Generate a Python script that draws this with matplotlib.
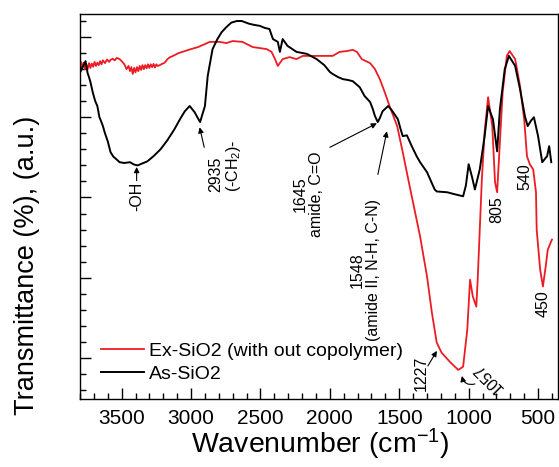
import matplotlib
matplotlib.use("Agg")
import matplotlib.pyplot as plt
from matplotlib.ticker import MultipleLocator

plt.rcParams["font.family"] = ["Liberation Sans", "DejaVu Sans"]
plt.rcParams["mathtext.fontset"] = "custom"
plt.rcParams["mathtext.rm"] = "Liberation Sans"
plt.rcParams["mathtext.it"] = "Liberation Sans:italic"

# As-SiO2 spectrum (wavenumber, transmittance a.u.)
as_wn = [3795, 3760, 3745, 3735, 3725, 3710, 3700, 3690, 3675, 3660, 3650, 3635,
         3620, 3600, 3580, 3560, 3540, 3515, 3480, 3440, 3410, 3385, 3350, 3315,
         3270, 3220, 3170, 3120, 3080, 3045, 3010, 2975, 2935, 2900, 2880, 2845,
         2810, 2780, 2745, 2710, 2670, 2635, 2580, 2540, 2505, 2470, 2435, 2410,
         2375, 2360, 2340, 2305, 2240, 2165, 2095, 2040, 2000, 1980, 1940, 1905,
         1870, 1835, 1785, 1750, 1710, 1690, 1675, 1655, 1640, 1620, 1580, 1560,
         1545, 1510, 1490, 1475, 1445, 1410, 1375, 1350, 1300, 1245, 1230, 1155,
         1100, 1040, 1020, 1000, 975, 955, 920, 885, 860, 825, 795, 775, 740, 710,
         665, 630, 595, 575, 550, 530, 500, 470, 435, 420, 405]
as_t = [81.5, 84.0, 81.0, 80.0, 78.8, 76.5, 75.2, 74.0, 72.8, 70.0, 69.2, 67.8,
        66.0, 64.0, 61.3, 60.2, 59.6, 58.8, 58.6, 58.8, 58.2, 58.0, 58.5, 59.0,
        60.3, 62.0, 64.3, 67.0, 69.5, 71.5, 72.8, 71.3, 68.8, 72.8, 80.3, 87.0,
        89.5, 91.2, 92.5, 93.6, 94.0, 94.0, 93.3, 93.0, 92.8, 92.3, 92.0, 89.5,
        88.8, 86.3, 89.5, 87.8, 86.3, 85.8, 84.5, 83.0, 81.3, 80.8, 80.0, 79.5,
        79.3, 79.0, 77.5, 75.3, 73.8, 72.0, 70.3, 68.8, 69.8, 71.5, 72.8, 72.0,
        71.3, 69.5, 67.0, 65.3, 65.5, 62.8, 60.3, 58.8, 56.3, 52.0, 51.5, 51.3,
        50.8, 50.3, 53.0, 58.3, 55.0, 52.0, 57.0, 65.3, 72.8, 69.5, 61.5, 72.0,
        82.0, 85.3, 82.8, 77.0, 70.3, 67.8, 69.2, 70.0, 65.3, 58.8, 60.3, 62.8, 58.8]

# Ex-SiO2 (with out copolymer) spectrum
ex_wn = [3795, 3785, 3775, 3765, 3755, 3745, 3735, 3725, 3715, 3705, 3695, 3685,
         3675, 3665, 3655, 3645, 3635, 3620, 3605, 3590, 3580, 3565, 3550, 3535,
         3515, 3500, 3480, 3465, 3450, 3440, 3430, 3420, 3410, 3400, 3390, 3380,
         3370, 3360, 3350, 3340, 3330, 3320, 3310, 3300, 3290, 3280, 3270, 3260,
         3250, 3240, 3225, 3210, 3195, 3185, 3170, 3150, 3130, 3090, 3045, 3000,
         2950, 2865, 2795, 2745, 2700, 2630, 2555, 2455, 2420, 2395, 2375, 2340,
         2290, 2240, 2195, 2130, 2070, 1980, 1930, 1880, 1835, 1805, 1770, 1710,
         1675, 1640, 1605, 1570, 1515, 1475, 1425, 1390, 1350, 1300, 1265, 1230,
         1195, 1135, 1075, 1040, 1010, 990, 970, 945, 935, 920, 905, 885, 860,
         830, 810, 795, 775, 755, 725, 705, 665, 630, 600, 580, 560, 535, 515,
         510, 485, 465, 445, 430, 400]
ex_t = [83.8, 82.5, 83.6, 82.0, 83.2, 82.0, 83.5, 82.3, 83.4, 82.6, 83.8, 82.8,
        83.6, 83.0, 84.0, 83.2, 84.2, 83.5, 84.4, 83.8, 84.3, 84.6, 84.2, 84.8,
        84.5, 84.0, 83.2, 82.0, 82.8, 81.5, 82.5, 80.8, 82.3, 81.2, 82.5, 81.5,
        82.8, 81.8, 83.0, 82.0, 83.0, 82.2, 83.2, 82.3, 83.2, 82.5, 83.3, 82.4,
        83.2, 82.8, 83.0, 83.3, 83.5, 83.8, 84.5, 85.0, 85.3, 86.0, 86.5, 87.0,
        87.5, 88.8, 88.8, 88.5, 89.0, 88.8, 87.5, 87.0, 86.3, 84.5, 82.8, 84.5,
        85.0, 84.5, 85.3, 85.3, 85.3, 85.3, 86.3, 86.5, 86.8, 86.3, 84.5, 83.5,
        82.0, 79.5, 76.3, 72.8, 67.8, 61.3, 52.8, 47.0, 40.3, 30.3, 21.3, 13.8,
        11.3, 9.0, 7.0, 7.8, 17.0, 29.5, 25.3, 22.8, 29.5, 42.0, 54.5, 66.3, 75.0,
        67.8, 53.8, 51.3, 63.8, 76.3, 85.3, 86.5, 84.5, 77.8, 69.5, 60.3, 58.3,
        57.0, 51.3, 42.0, 32.0, 27.8, 32.8, 37.0, 39.5]

labels = ["Ex-SiO2 (with out copolymer)", "As-SiO2"]
red = "#ec1c24"

fig = plt.figure(figsize=(5.59, 4.67), dpi=100)
ax = fig.add_axes([80 / 559, 68 / 467, 477.5 / 559, 385 / 467])

ax.plot(ex_wn, ex_t, color=red, lw=1.3, label=labels[0])
ax.plot(as_wn, as_t, color="black", lw=1.4, label=labels[1])

ax.set_xlim(3800, 360)
ax.set_ylim(-0.25, 95.75)
ax.xaxis.set_major_locator(MultipleLocator(500))
ax.xaxis.set_minor_locator(MultipleLocator(100))
ax.yaxis.set_major_locator(MultipleLocator(20, offset=10))
ax.yaxis.set_minor_locator(MultipleLocator(4, offset=2))
ax.tick_params(which="both", direction="in", width=1.0)
ax.tick_params(which="major", length=8)
ax.tick_params(which="minor", length=4.5)
ax.tick_params(axis="x", labelsize=15, pad=7)
ax.tick_params(axis="y", labelleft=False)
for s in ax.spines.values():
    s.set_linewidth(1.0)

fig.text(320 / 559, 1 - 444 / 467, "Wavenumber (cm$^{-1}$)", fontsize=20.5,
         ha="center", va="center")
fig.text(27 / 559, 1 - 265 / 467, "Transmittance (%), (a.u.)", fontsize=19.5,
         rotation=90, ha="center", va="center")

ax.legend(loc="upper left", bbox_to_anchor=(0.045, 0.148), frameon=False,
          fontsize=14, handlelength=2.2, handletextpad=0.25, labelspacing=0.3,
          borderpad=0, borderaxespad=0)

arrow = dict(arrowstyle="-|>", color="black", lw=0.8, mutation_scale=8,
             shrinkA=0, shrinkB=0)
fs = 11.5

# peak labels
ax.annotate("", xy=(3392, 57.6), xytext=(3392, 54.2), arrowprops=arrow)
ax.text(3392, 54.0, "-OH", rotation=90, ha="center", va="top", fontsize=fs)

ax.annotate("", xy=(2938, 67.5), xytext=(2905, 62.5), arrowprops=arrow)
ax.text(2750, 64.5, "2935\n(-CH$_2$)-", rotation=90, ha="center", va="top",
        fontsize=fs, multialignment="left", linespacing=1.1)

ax.annotate("", xy=(1661, 68.5), xytext=(2000, 62.5), arrowprops=arrow)
ax.text(2152, 50.75, "1645\namide, C=O", rotation=90, ha="center",
        va="center", fontsize=fs, multialignment="center", linespacing=1.1)

ax.annotate("", xy=(1589, 66.5), xytext=(1654, 55.75), arrowprops=arrow)
ax.text(1745, 32.0, "1548\n(amide II, N-H, C-N)", rotation=90, ha="center",
        va="center", fontsize=fs, multialignment="center", linespacing=1.1)

ax.text(796, 47.0, "805", rotation=90, ha="center", va="center", fontsize=fs)
ax.text(594, 55.25, "540", rotation=90, ha="center", va="center", fontsize=fs)
ax.text(465, 23.5, "450", rotation=90, ha="center", va="center", fontsize=fs)

ax.annotate("", xy=(1229, 11.75), xytext=(1294, 8.0), arrowprops=arrow)
ax.text(1344, 6.25, "1227", rotation=90, ha="center", va="center", fontsize=fs)

ax.annotate("", xy=(1049, 5.5), xytext=(955, 3.5),
            arrowprops=dict(arrow, connectionstyle="arc3,rad=-0.5"))
ax.text(861, 5.0, "1057", rotation=135, ha="center", va="center", fontsize=fs)

fig.savefig("out.png", dpi=100)
